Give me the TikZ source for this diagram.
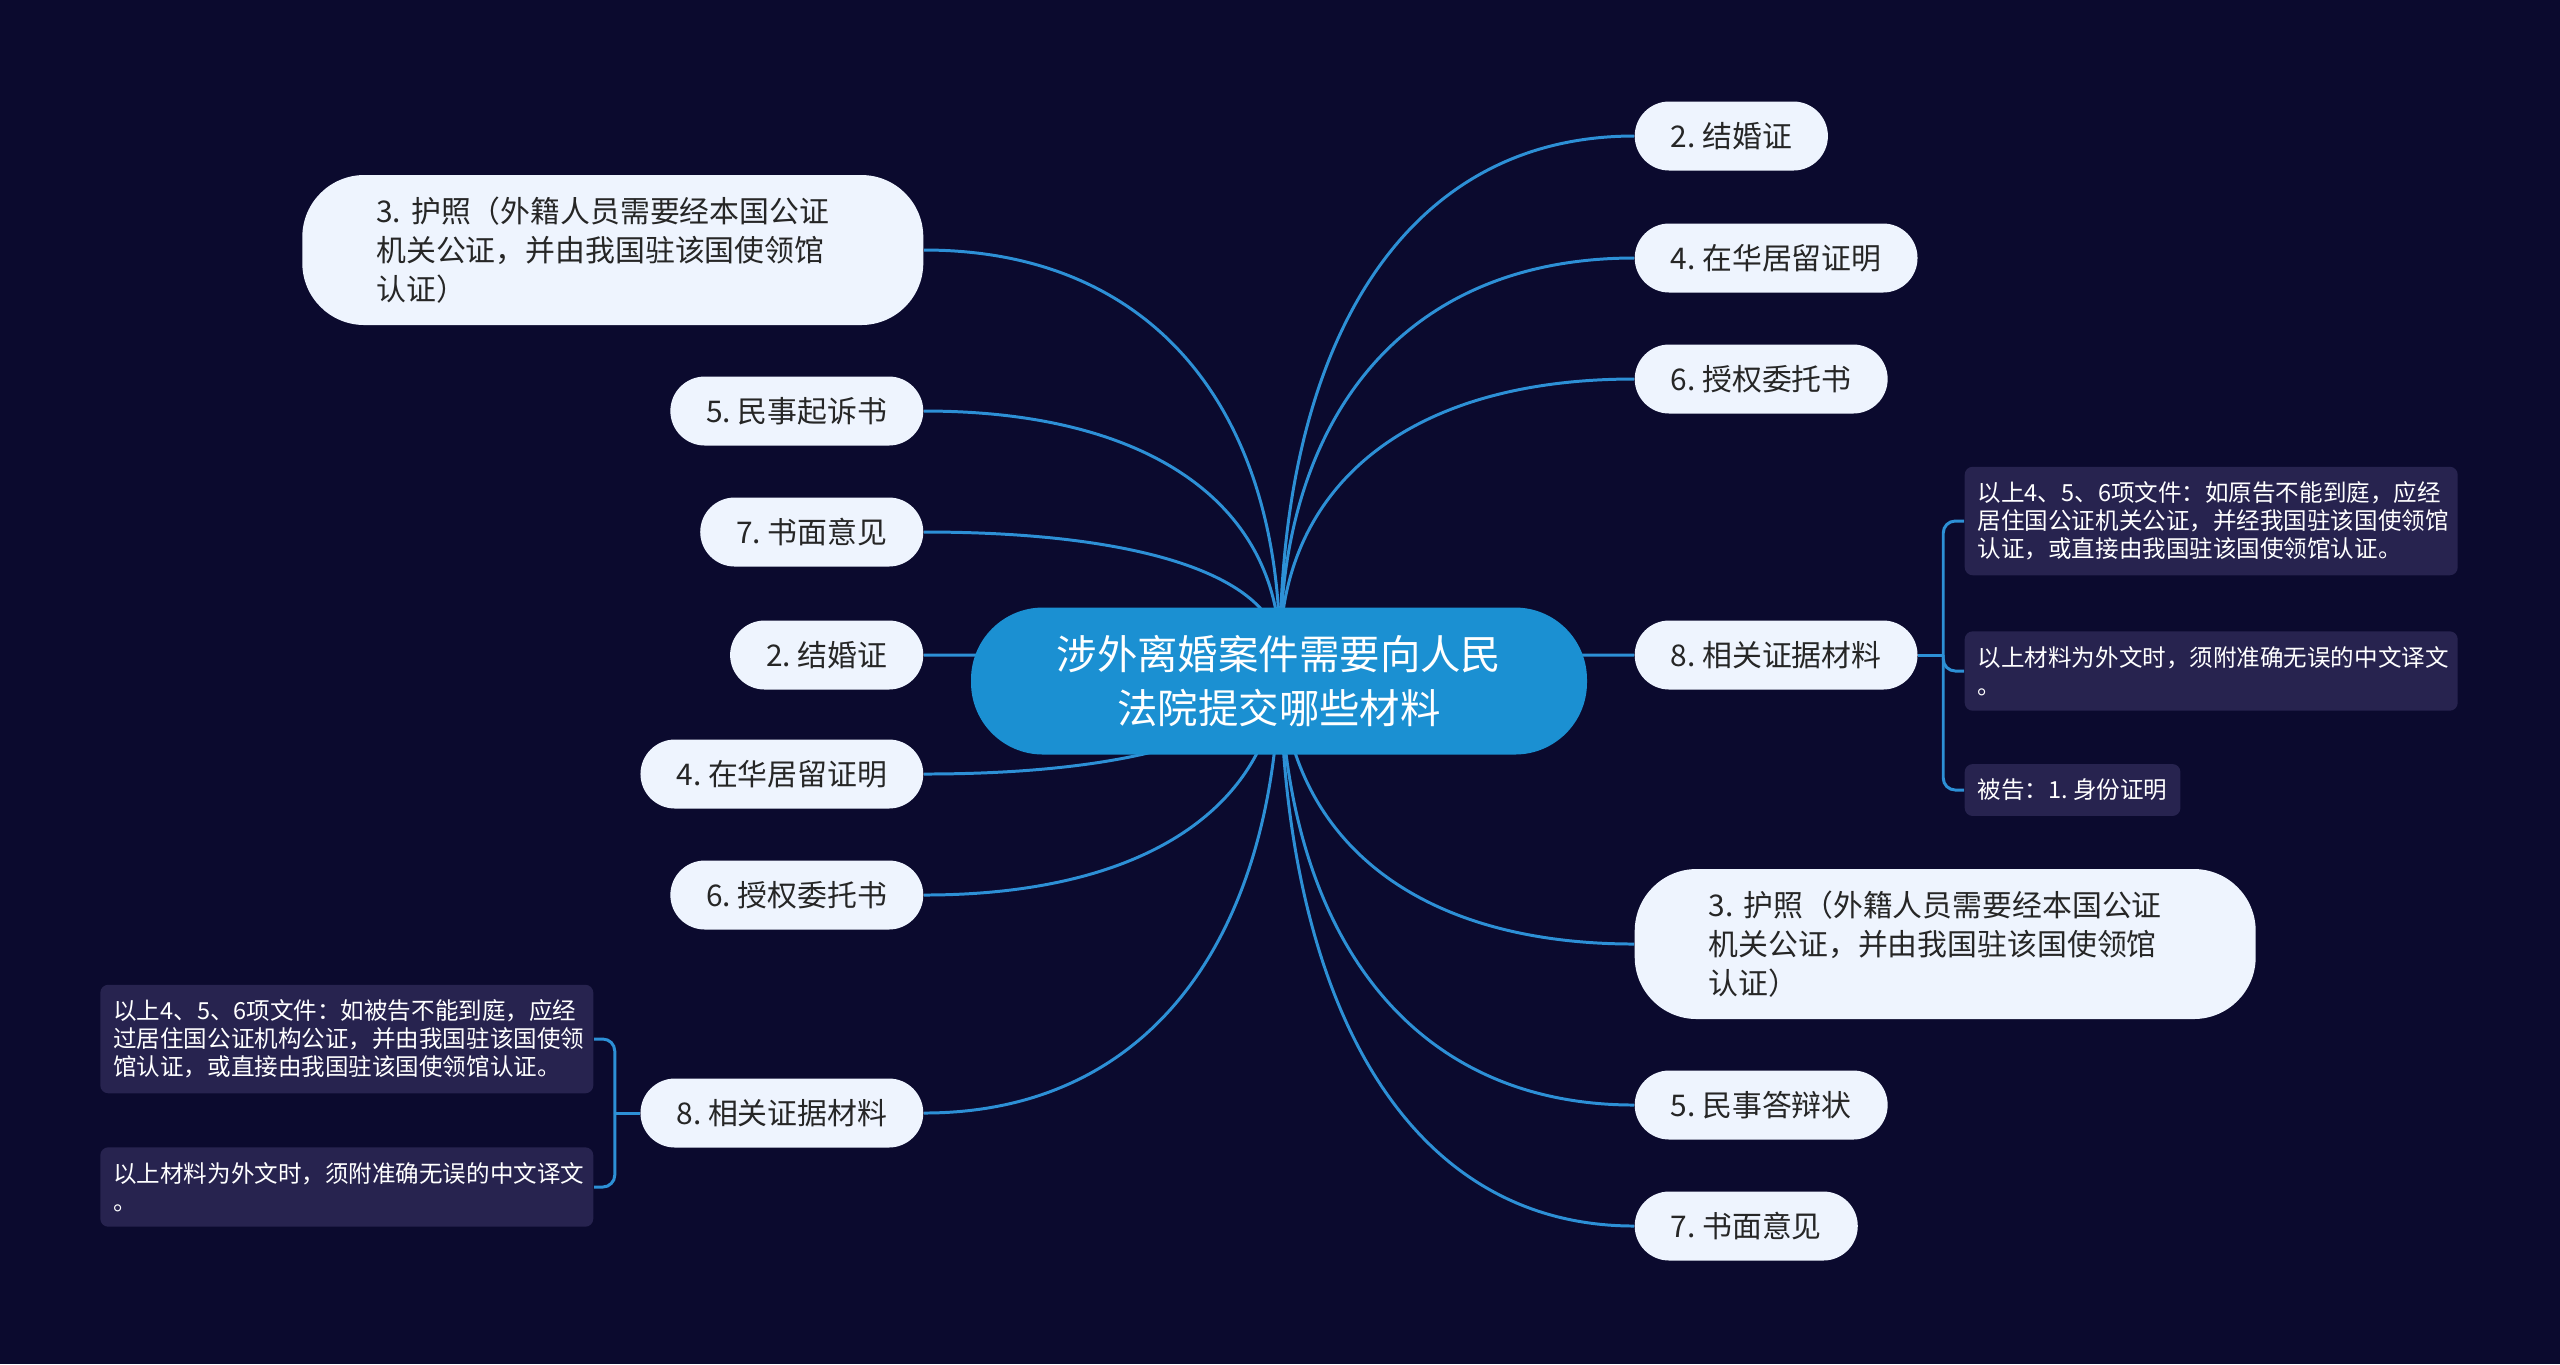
\documentclass[tikz,border=0pt]{standalone}
\usepackage{fontspec}
\setmainfont{Noto Sans CJK SC}
\usepackage{tikz}
\usetikzlibrary{calc,positioning}
\pgfdeclarelayer{background}
\pgfsetlayers{background,main}
\frenchspacing

\definecolor{navy}{HTML}{0B0A2E}
\definecolor{topicblue}{HTML}{1B90D2}
\definecolor{linkblue}{HTML}{2D90D6}
\definecolor{leaffill}{HTML}{EEF4FE}
\definecolor{leaftext}{HTML}{262626}
\definecolor{notefill}{HTML}{27234F}

\begin{document}
\begin{tikzpicture}[
    maintopic/.style={fill=topicblue, text=white, rounded corners=0.72cm, minimum width=6.16cm, minimum height=1.47cm, align=center, font=\fontsize{11.5pt}{15.6pt}\selectfont},
    subtopic/.style={fill=leaffill, text=leaftext, rounded corners=0.345cm, minimum height=0.69cm, inner xsep=0.36cm, inner ysep=0pt, font=\fontsize{8.5pt}{11.1pt}\selectfont},
    longtopic/.style={subtopic, rounded corners=0.62cm, minimum height=1.5cm, text width=4.73cm, inner xsep=0.74cm, align=left},
    note/.style={fill=notefill, text=white, rounded corners=0.08cm, inner xsep=0.13cm, inner ysep=0.15cm, align=left, font=\fontsize{6.7pt}{7.97pt}\selectfont},
    notewide/.style={note, text width=4.67cm},
    branch/.style={linkblue, line width=0.85pt},
]
        \useasboundingbox (0,0) rectangle (25.6,-13.64);

        % Central topic
        \node[maintopic] (main) at (12.79,-6.81) {涉外离婚案件需要向人民\\法院提交哪些材料};
        \coordinate (hub) at (12.80,-6.55);

        % Right branches
        \node[subtopic, anchor=west] (r2) at (16.34,-1.36) {2. 结婚证};
        \node[subtopic, anchor=west] (r4) at (16.34,-2.58) {4. 在华居留证明};
        \node[subtopic, anchor=west] (r6) at (16.34,-3.79) {6. 授权委托书};
        \node[subtopic, anchor=west] (r8) at (16.34,-6.55) {8. 相关证据材料};
        \node[longtopic, anchor=west] (r3) at (16.34,-9.44) {3. 护照（外籍人员需要经本国公证\\机关公证，并由我国驻该国使领馆\\认证）};
        \node[subtopic, anchor=west] (r5) at (16.34,-11.05) {5. 民事答辩状};
        \node[subtopic, anchor=west] (r7) at (16.34,-12.26) {7. 书面意见};

        % Left branches
        \node[longtopic, anchor=east] (l3) at (9.24,-2.50) {3. 护照（外籍人员需要经本国公证\\机关公证，并由我国驻该国使领馆\\认证）};
        \node[subtopic, anchor=east] (l5) at (9.24,-4.11) {5. 民事起诉书};
        \node[subtopic, anchor=east] (l7) at (9.24,-5.32) {7. 书面意见};
        \node[subtopic, anchor=east] (l2) at (9.24,-6.55) {2. 结婚证};
        \node[subtopic, anchor=east] (l4) at (9.24,-7.74) {4. 在华居留证明};
        \node[subtopic, anchor=east] (l6) at (9.24,-8.95) {6. 授权委托书};
        \node[subtopic, anchor=east] (l8) at (9.24,-11.13) {8. 相关证据材料};

        % Notes
        \node[notewide, anchor=west] (rn1) at (19.64,-5.21) {以上4、5、6项文件：如原告不能到庭，应经\\居住国公证机关公证，并经我国驻该国使领馆\\认证，或直接由我国驻该国使领馆认证。};
        \node[notewide, anchor=west] (rn2) at (19.64,-6.71) {以上材料为外文时，须附准确无误的中文译文\\。};
        \node[note, anchor=west] (rn3) at (19.64,-7.90) {被告：1. 身份证明};
        \node[notewide, anchor=east] (ln1) at (5.94,-10.39) {以上4、5、6项文件：如被告不能到庭，应经\\过居住国公证机构公证，并由我国驻该国使领\\馆认证，或直接由我国驻该国使领馆认证。};
        \node[notewide, anchor=east] (ln2) at (5.94,-11.87) {以上材料为外文时，须附准确无误的中文译文\\。};

        \begin{pgfonlayer}{background}
        \fill[navy] (0,0) rectangle (25.6,-13.64);
        % Connectors
        \foreach \n in {r2,r4,r6,r8,r3,r5,r7}
            \draw[branch] (hub) .. controls ($(hub)!0.6!(hub |- \n.west)$) and ($(\n.west)!0.65!(hub |- \n.west)$) .. (\n.west);
        \foreach \n in {l3,l5,l7,l2,l4,l6,l8}
            \draw[branch] (hub) .. controls ($(hub)!0.6!(hub |- \n.east)$) and ($(\n.east)!0.65!(hub |- \n.east)$) .. (\n.east);
        % Brackets to notes
        \coordinate (rj) at ($(r8.east)+(0.25,0)$);
        \draw[branch] (r8.east) -- (rj);
        \foreach \n in {rn1,rn2,rn3}
            \draw[branch, rounded corners=0.12cm] (rj) |- (\n.west);
        \coordinate (lj) at ($(l8.west)+(-0.25,0)$);
        \draw[branch] (l8.west) -- (lj);
        \foreach \n in {ln1,ln2}
            \draw[branch, rounded corners=0.12cm] (lj) |- (\n.east);
        \end{pgfonlayer}
\end{tikzpicture}
\end{document}
